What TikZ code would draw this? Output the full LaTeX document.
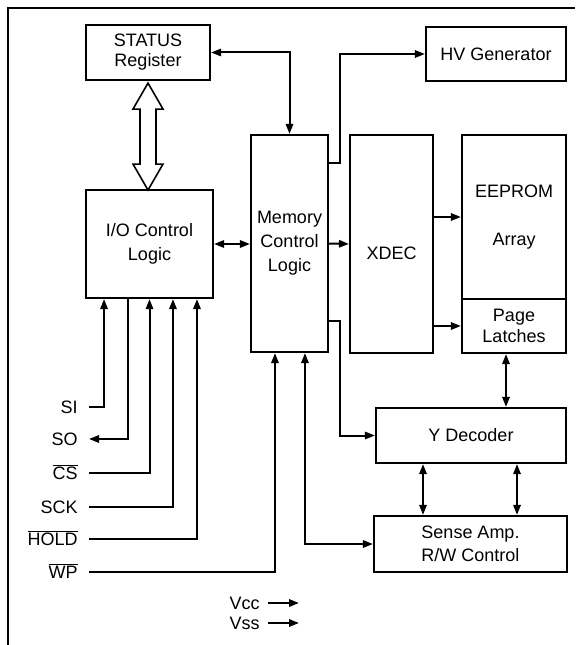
\documentclass[tikz,border=0pt]{standalone}
\usepackage{fontspec}
\setmainfont{Liberation Sans}
\usetikzlibrary{arrows.meta}
\newcommand{\negsig}[1]{$\overline{\mbox{#1}}$}

\begin{document}
\begin{tikzpicture}[x=0.75pt,y=-0.75pt,
  box/.style={draw,line width=1.6pt,inner sep=0pt,align=center,font=\fontsize{13.5}{17.5}\selectfont},
  txt/.style={inner sep=0pt,font=\fontsize{13.5}{17.5}\selectfont},
  pin/.style={anchor=east,inner xsep=8.25pt,inner ysep=0pt,text height=9.7pt,text depth=0pt,font=\fontsize{13.5}{16}\selectfont},
  wire/.style={line width=1.5pt},
  >={Triangle[length=7.5pt,width=5.5pt]}]
\useasboundingbox (0,0) rectangle (575,645);
% frame
\draw[line width=1.6pt] (8,645) -- (8,8) -- (575,8);
% blocks
\node[box,minimum width=93pt,minimum height=41.25pt,font=\fontsize{13.5}{15}\selectfont] (status) at (148,52.5) {STATUS\\Register};
\node[box,minimum width=105pt,minimum height=40.5pt] (hv) at (496,54) {HV Generator};
\node[box,minimum width=95.25pt,minimum height=81pt,font=\fontsize{13.5}{18}\selectfont] (io) at (149.5,244) {I/O Control\\Logic};
\node[box,minimum width=57.75pt,minimum height=162.75pt,font=\fontsize{13.5}{18}\selectfont] (mem) at (289.5,243.5) {Memory\\Control\\Logic};
\node[box,minimum width=62.25pt,minimum height=163.5pt] (xdec) at (391.5,244) {};
\node[txt] (xdectxt) at (391.5,253) {XDEC};
\node[box,minimum width=78pt,minimum height=123pt] (arr) at (514,217) {EEPROM\\[19pt]Array};
\node[box,minimum width=78pt,minimum height=40.5pt,font=\fontsize{13.5}{15.75}\selectfont] (latch) at (514,326) {Page\\Latches};
\node[box,minimum width=142.5pt,minimum height=41.25pt] (ydec) at (471,435.5) {Y Decoder};
\node[box,minimum width=144.75pt,minimum height=42pt] (sense) at (470.5,544) {Sense Amp.\\R/W Control};
% status register bus
\draw[line width=1.2pt] ([yshift=-1.5pt]status.south) -- ++(15,26) -- ++(-7,0) -- ++(0,55) -- ++(7,0)
  -- ++(-15,26) -- ++(-15,-26) -- ++(7,0) -- ++(0,-55) -- ++(-7,0) -- cycle;
% pins
\node[pin] (si) at (89,407) {SI};
\node[pin] (so) at (89,439) {SO};
\node[pin] (cs) at (89,473) {\negsig{CS}};
\node[pin] (sck) at (89,507) {SCK};
\node[pin] (hold) at (89,539) {\negsig{HOLD}};
\node[pin] (wp) at (89,572) {\negsig{WP}};
\node[pin,inner xsep=6pt] (vcc) at (268,603) {Vcc};
\node[pin,inner xsep=6pt] (vss) at (268,623) {Vss};
\coordinate (vccend) at (299,603);
\coordinate (vssend) at (299,623);
% bend points
\coordinate (hvbend) at (340,163);
\coordinate (ydbend) at (340,321);
\coordinate (latchtap) at ([xshift=-6pt]latch.south);
\coordinate (ysl) at ([xshift=-36pt]ydec.south);
\coordinate (ysr) at ([xshift=34.5pt]ydec.south);
% connections
\draw[wire,<->] (status.east) -| (mem.north);
\draw[wire,->] (mem.east |- hvbend) -- (hvbend) |- (hv.west);
\draw[wire,<->] (io.east) -- (io.east -| mem.west);
\draw[wire,->] (mem.east) -- (xdec.west);
\draw[wire,->] (xdec.east |- arr.west) -- (arr.west);
\draw[wire,->] (xdec.east |- latch.west) -- (latch.west);
\draw[wire,<->] (latchtap) -- (latchtap |- ydec.north);
\draw[wire,->] (mem.east |- ydbend) -- (ydbend) |- (ydec.west);
\draw[wire,<->] (ysl) -- (ysl |- sense.north);
\draw[wire,<->] (ysr) -- (ysr |- sense.north);
\draw[wire,<->] ([xshift=11.6pt]mem.south) |- (sense.west);
\draw[wire,->] (wp.east) -| ([xshift=-10.9pt]mem.south);
\draw[wire,->] (si.east) -| ([xshift=-34.1pt]io.south);
\draw[wire,->] ([xshift=-16.1pt]io.south) |- (so.east);
\draw[wire,->] (cs.east) -| (io.south);
\draw[wire,->] (sck.east) -| ([xshift=17.6pt]io.south);
\draw[wire,->] (hold.east) -| ([xshift=35.6pt]io.south);
\draw[wire,->] (vcc.east) -- (vccend);
\draw[wire,->] (vss.east) -- (vssend);
\end{tikzpicture}
\end{document}
